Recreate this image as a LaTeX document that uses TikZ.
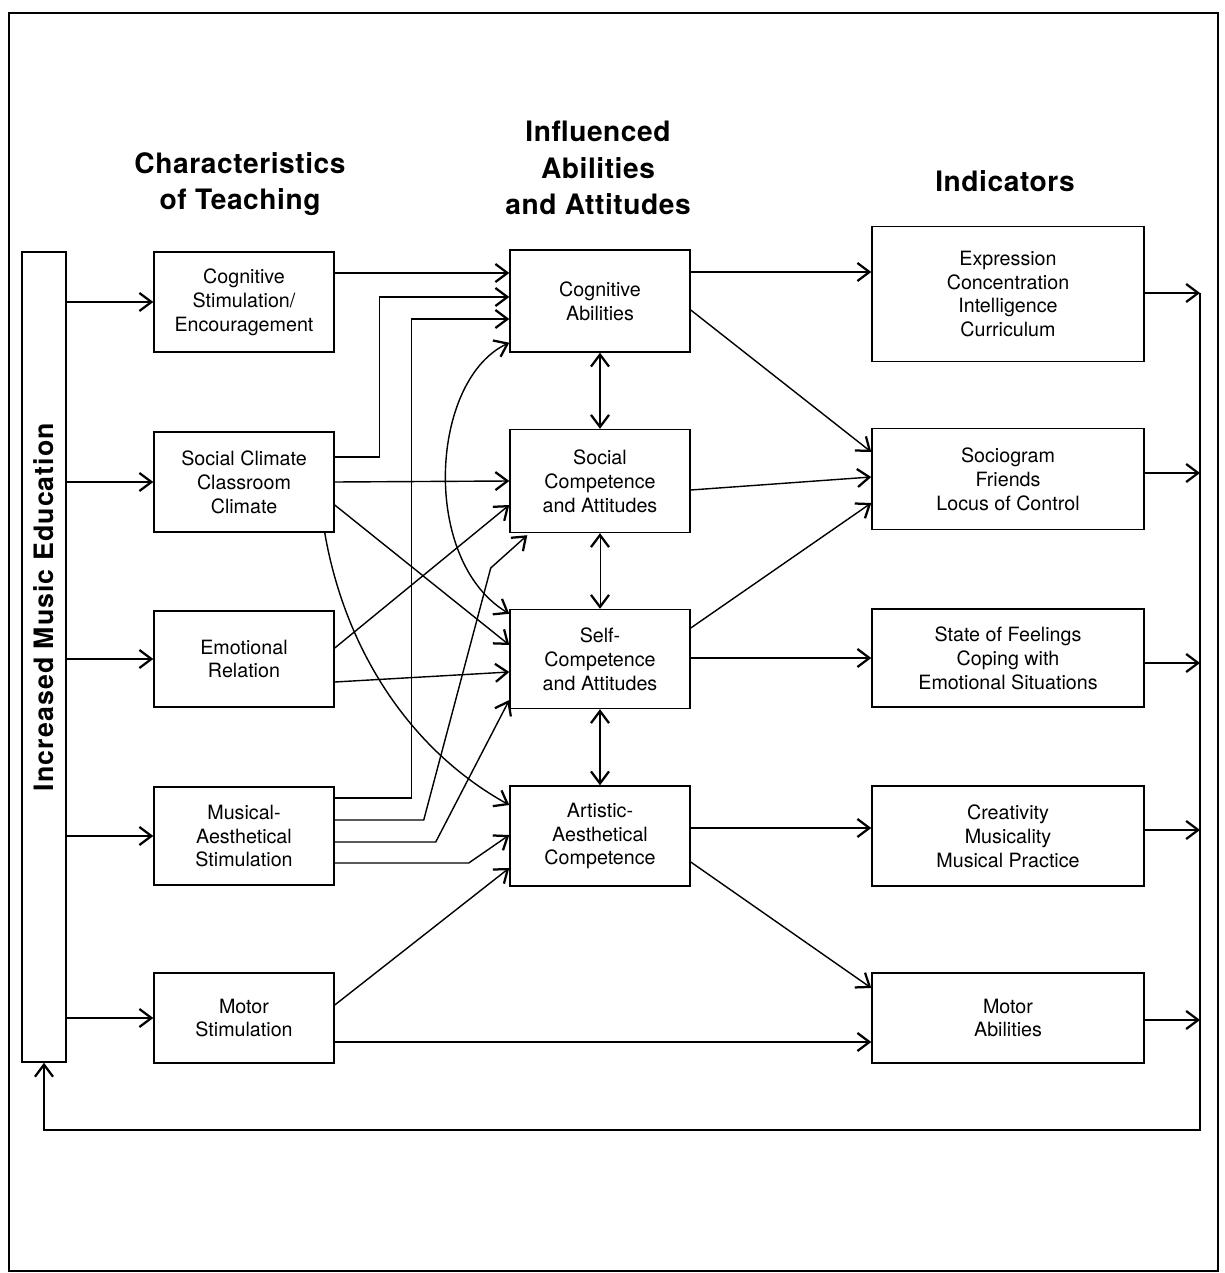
\documentclass[tikz,border=0pt]{standalone}
\usepackage{fontspec}
\setsansfont{TeX Gyre Heros}
\newfontfamily\headfont[LetterSpace=2]{TeX Gyre Heros}
\newfontfamily\sidefont[LetterSpace=4]{TeX Gyre Heros}
\usetikzlibrary{positioning, arrows.meta, calc}

\begin{document}
\begin{tikzpicture}[x=0.025cm, y=-0.025cm, font=\sffamily,
  box/.style={draw, line width=1pt, inner sep=0pt, align=center,
    font=\sffamily\fontsize{14}{17}\selectfont},
  teach/.style={box, minimum width=4.5cm, minimum height=2.5cm},
  abil/.style={box, minimum width=4.5cm, minimum height=2.5cm},
  indic/.style={box, minimum width=6.8cm, minimum height=2.5cm},
  head/.style={align=center, font=\headfont\bfseries\fontsize{20}{26}\selectfont},
  arr/.style={line width=1pt, -{Straight Barb[length=3mm,width=4.5mm,line width=1.6pt]}},
  darr/.style={line width=1pt, {Straight Barb[length=3mm,width=4.5mm,line width=1.6pt]}-{Straight Barb[length=3mm,width=4.5mm,line width=1.6pt]}}]
  \useasboundingbox (0,0) rectangle (1224,1273);
  \draw[line width=1pt] (9,13) rectangle (1218,1271);

  % headings
  \node[head] (h1) at (240,184) {Characteristics\\of Teaching};
  \node[head] (h2) at (598,168) {Influenced\\Abilities\\and Attitudes};
  \node[head] (h3) at (1005,181) {Indicators};

  % left bar
  \node[draw, line width=1pt, minimum width=1.1cm, minimum height=20.25cm,
    inner sep=0pt] (ime) at (44,657) {};
  \node[rotate=90, font=\sidefont\bfseries\fontsize{19}{22}\selectfont]
    (imetxt) at ($(ime.center)+(0,-50)$) {Increased Music Education};

  % characteristics of teaching
  \node[teach] (cs) at (244,302) {Cognitive\\Stimulation/\\Encouragement};
  \node[teach] (sc) at (244,482) {Social Climate\\Classroom\\Climate};
  \node[teach, minimum height=2.4cm] (em) at (244,659) {Emotional\\Relation};
  \node[teach, minimum height=2.45cm] (ms) at (244,836) {Musical-\\Aesthetical\\Stimulation};
  \node[teach, minimum height=2.25cm] (mt) at (244,1018) {Motor\\Stimulation};

  % abilities and attitudes
  \node[abil, minimum height=2.55cm] (ca) at (600,301) {Cognitive\\Abilities};
  \node[abil, minimum height=2.575cm] (scc) at (600,481) {Social\\Competence\\and Attitudes};
  \node[abil, minimum height=2.475cm] (sf) at (600,659) {Self-\\Competence\\and Attitudes};
  \node[abil] (ar) at (600,836) {Artistic-\\Aesthetical\\Competence};

  % indicators
  \node[indic, minimum height=3.375cm] (ex) at (1008,294) {Expression\\Concentration\\Intelligence\\Curriculum};
  \node[indic, minimum height=2.525cm] (sg) at (1008,479) {Sociogram\\Friends\\Locus of Control};
  \node[indic, minimum height=2.45cm] (st) at (1008,658) {State of Feelings\\Coping with\\Emotional Situations};
  \node[indic] (cr) at (1008,836) {Creativity\\Musicality\\Musical Practice};
  \node[indic, minimum height=2.25cm] (ma) at (1008,1018) {Motor\\Abilities};

  % input arrows
  \foreach \n in {cs,sc,em,ms,mt}
    \draw[arr] (ime.east |- \n.west) -- (\n.west);

  % teaching -> abilities
  \draw[arr] ($(cs.east)+(0,-29)$) -- ($(ca.west)+(0,-28)$);
  \draw[arr] ($(sc.east)+(0,-25)$) -- ++(45,0) |- ($(ca.west)+(0,-4)$);
  \draw[arr] ($(ms.east)+(0,-38)$) -- ++(77,0) |- ($(ca.west)+(0,18)$);
  \draw[darr] ($(ca.south west)+(0,-10)$) .. controls (430,380) and (420,560) .. ($(sf.north west)+(0,5)$);
  \draw[arr] (sc.east) -- (scc.west);
  \draw[arr] ($(sc.east)+(0,23)$) -- ($(sf.west)+(0,-14)$);
  \draw[arr] ($(sc.south east)+(-10,0)$) .. controls (345,650) and (410,750) .. ($(ar.west)+(0,-31)$);
  \draw[arr] ($(em.east)+(0,-11)$) -- ($(scc.west)+(0,24)$);
  \draw[arr] ($(em.east)+(0,23)$) -- ($(sf.west)+(0,13)$);
  \draw[arr] ($(ms.east)+(0,-16)$) -- ++(89,0) -- ++(67,-252) -- ($(scc.south west)+(18,2)$);
  \draw[arr] ($(ms.east)+(0,6)$) -- ++(101,0) -- ($(sf.west)+(0,41)$);
  \draw[arr] ($(ms.east)+(0,27)$) -- ++(134,0) -- ($(ar.west)+(0,-1)$);
  \draw[arr] ($(mt.east)+(0,-13)$) -- ($(ar.west)+(0,32)$);
  \draw[arr] ($(mt.east)+(0,24)$) -- ($(ma.west)+(0,24)$);

  % between abilities
  \draw[darr] (ca.south) -- (scc.north);
  \draw[darr, line width=0.6pt] (scc.south) -- (sf.north);
  \draw[darr] (sf.south) -- (ar.north);

  % abilities -> indicators
  \draw[arr] ($(ca.east)+(0,-29)$) -- ($(ex.west)+(0,-22)$);
  \draw[arr] ($(ca.east)+(0,9)$) -- ($(sg.west)+(0,-27)$);
  \draw[arr] ($(scc.east)+(0,9)$) -- ($(sg.west)+(0,-2)$);
  \draw[arr] ($(sf.east)+(0,-31)$) -- ($(sg.west)+(0,24)$);
  \draw[arr] ($(sf.east)+(0,-1)$) -- (st.west);
  \draw[arr] ($(ar.east)+(0,-8)$) -- ($(cr.west)+(0,-8)$);
  \draw[arr] ($(ar.east)+(0,26)$) -- ($(ma.west)+(0,-30)$);

  % feedback loop
  \coordinate (fbr) at (1200,1130);
  \coordinate (fbl) at (ime.south |- fbr);
  \foreach \n/\dy in {ex/-1,sg/-6,st/5,cr/-6,ma/2}
    \draw[arr] ($(\n.east)+(0,\dy)$) -- ($(\n.east -| fbr)+(0,\dy)$);
  \draw[arr] ($(ex.east -| fbr)+(0,-1)$) -- (fbr) -- (fbl) -- (ime.south);
\end{tikzpicture}
\end{document}
